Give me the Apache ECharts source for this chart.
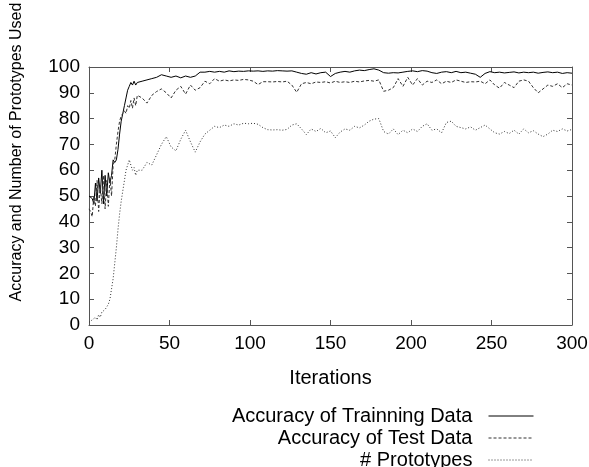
<!DOCTYPE html>
<html>
<head>
<meta charset="utf-8">
<script src="https://cdn.jsdelivr.net/npm/echarts@6/dist/echarts.min.js"></script>
<style>
  html, body { margin: 0; padding: 0; background: #fff; }
  #main { width: 589px; height: 467px; }
</style>
</head>
<body>
<div id="main"></div>
<script>
var iterations = [
  0, 1, 2, 3, 4, 5, 6, 7, 8, 9, 10, 11, 12, 13, 14, 15, 16, 17, 18, 19, 20,
  21, 22, 23, 24, 25, 26, 27, 28, 29, 30,
  33, 36, 39, 42, 45, 48, 51, 54, 57, 60, 63, 66, 69, 72, 75, 78, 81, 84, 87, 90,
  93, 96, 99, 102, 105, 108, 111, 114, 117, 120, 123, 126, 129, 132, 135, 138, 141, 144, 147, 150,
  153, 156, 159, 162, 165, 168, 171, 174, 177, 180, 183, 186, 189, 192, 195, 198, 201, 204, 207, 210,
  213, 216, 219, 222, 225, 228, 231, 234, 237, 240, 243, 246, 249, 252, 255, 258, 261, 264, 267, 270,
  273, 276, 279, 282, 285, 288, 291, 294, 297, 300
];

var trainAcc = [
  50, 50, 49, 47, 55, 48, 57, 51, 60, 47, 58, 50, 59, 55, 58, 64, 63, 64, 68, 74, 79,
  82, 85, 88, 91, 92.5, 94, 93, 94.5, 93, 94,
  94.5, 95, 95.5, 96, 97, 96.5, 96, 96.5, 95.8, 96.5, 96, 96.5, 98, 98, 98.3, 98, 98.3, 98, 98.5, 98.2,
  98.4, 98.3, 98.5, 98.4, 98.5, 98.3, 98.5, 98.4, 98.6, 98.5, 98.4, 98.5, 98, 97.5, 97.2, 97.8, 97.3, 97.8, 98, 96.3,
  97.5, 98, 98.3, 98, 98.5, 98.8, 98.6, 99, 99.3, 98.8, 97.8, 97.6, 97.8, 97.7, 98, 98.3, 98.5, 98.2, 98.6, 98.4,
  97.8, 97.5, 98, 98.2, 97.8, 98.3, 97.8, 98, 97.6, 97.2, 96, 97.5, 98.2, 97.8, 98, 97.7, 97.9, 98.1, 97.7, 98,
  97.8, 98, 97.6, 97.9, 98.1, 97.8, 98, 97.5, 97.8, 97.6
];

var testAcc = [
  45, 44, 42, 50, 46, 56, 44, 54, 47, 58, 45, 56, 46, 57, 50, 62, 64, 70, 75, 79, 81,
  82, 83, 82, 85, 84, 87, 84, 88, 85, 89,
  88, 86, 89, 90.5, 91.5, 90, 88, 91, 92.5, 89.5, 93, 91, 92, 94.5, 93.5, 95.5, 94.5, 95, 94.6, 95,
  94.8, 95.2, 95, 94.5, 93.2, 94.3, 94.3, 94.2, 94.4, 94.2, 94.5, 93, 90.2, 93.5, 94, 93.5, 94.2, 94, 94.3, 93.8,
  94.5, 94, 94.3, 94, 94.5, 94.2, 94.6, 94.8, 94.5, 95, 90.6, 91, 92, 95.5, 92.5, 96, 93, 95.5, 93, 94.5,
  94, 95, 93.5, 94.5, 94, 95, 94.5, 94, 94.3, 94.2, 94.5, 93.5, 95, 93, 91.8, 94, 93, 92, 94.5, 95,
  94.5, 92, 90, 91.5, 93, 92.5, 93.5, 92, 93.5, 93
];

var prototypes = [
  1, 1, 2, 2, 3, 2, 4, 3, 5, 5, 6, 7, 8, 10, 14, 18, 24, 30, 37, 43, 48,
  52, 56, 60, 62, 64, 62, 60, 61, 58, 60,
  60, 63, 62, 66, 70, 73, 69, 67.5, 72, 75.5, 71, 67, 71, 74, 75.5, 77, 76.5, 77.5, 77, 78,
  77.5, 78.2, 78, 78.2, 77.8, 76.5, 75.7, 75.6, 75.7, 75.5, 75.8, 77.5, 78, 76, 73.8, 76, 75, 76.2, 74.5, 75.2,
  72.6, 74.8, 76, 75.5, 77, 76.4, 77.5, 79, 79.8, 80, 75, 74, 76, 73.8, 75.5, 74.5, 76, 75, 77, 78,
  75.5, 76, 74.5, 78.5, 79, 77, 76.5, 76, 76.8, 75.5, 76.5, 77.5, 76, 74.5, 74, 75, 74.2, 75.5, 74, 76,
  74.5, 75.3, 74, 73, 74, 75.5, 75, 76, 75.2, 75.8
];

var seriesNames = ['Accuracy of Trainning Data', 'Accuracy of Test Data', '# Prototypes'];
var xTicks = [0, 50, 100, 150, 200, 250, 300];
var yTicks = [0, 10, 20, 30, 40, 50, 60, 70, 80, 90, 100];

function pairs(vals) {
  return iterations.map(function (it, i) { return [it, vals[i]]; });
}

var chart = echarts.init(document.getElementById('main'));
var font = 'Liberation Sans, Arial, sans-serif';
var frame = '#555';

var mirrorAxis = {
  type: 'value',
  axisLine: { show: true, onZero: false, lineStyle: { color: frame, width: 1 } },
  axisTick: { show: true, inside: true, length: 5, lineStyle: { color: frame } },
  axisLabel: { show: false },
  splitLine: { show: false }
};

// one legend per series so each row sits where the reference has it
var legendTops = [401, 423, 445];
var legends = seriesNames.map(function (name, i) {
  return {
    orient: 'horizontal', align: 'right',
    right: 50, top: legendTops[i],
    itemWidth: 45, itemHeight: 12,
    formatter: function (n) { return n + '  '; },
    itemStyle: { opacity: 0 },
    lineStyle: { width: 1 },
    textStyle: { fontFamily: font, fontSize: 20, color: '#000' },
    data: [name]
  };
});

chart.setOption({
  animation: false,
  backgroundColor: '#fff',
  grid: { left: 89, right: 17, top: 67, bottom: 142, containLabel: false, outerBoundsMode: 'none' },
  xAxis: [
    {
      type: 'value', min: xTicks[0], max: xTicks[xTicks.length - 1], interval: 50,
      name: 'Iterations', nameLocation: 'middle', nameGap: 43,
      nameTextStyle: { fontFamily: font, fontSize: 20, color: '#000' },
      axisLine: { show: true, onZero: false, lineStyle: { color: frame, width: 1 } },
      axisTick: { show: true, inside: true, length: 5, lineStyle: { color: frame } },
      axisLabel: { fontFamily: font, fontSize: 19, color: '#000', margin: 9 },
      splitLine: { show: false }
    },
    Object.assign({}, mirrorAxis, { position: 'top', min: 0, max: 300, interval: 50 })
  ],
  yAxis: [
    {
      type: 'value', min: yTicks[0], max: yTicks[yTicks.length - 1], interval: 10,
      axisLine: { show: true, onZero: false, lineStyle: { color: frame, width: 1 } },
      axisTick: { show: true, inside: true, length: 5, lineStyle: { color: frame } },
      axisLabel: { fontFamily: font, fontSize: 19, color: '#000', margin: 9 },
      splitLine: { show: false }
    },
    Object.assign({}, mirrorAxis, { position: 'right', min: 0, max: 100, interval: 10 })
  ],
  graphic: [{
    type: 'text', x: 17, y: 152, rotation: Math.PI / 2,
    style: {
      text: 'Accuracy and Number of Prototypes Used',
      font: '16px ' + font, fill: '#000',
      align: 'center', verticalAlign: 'middle'
    }
  }],
  legend: legends,
  series: [
    {
      name: seriesNames[0], type: 'line', data: pairs(trainAcc),
      showSymbol: false, symbol: 'none',
      lineStyle: { color: '#000', width: 1, type: 'solid' },
      itemStyle: { color: '#000' }
    },
    {
      name: seriesNames[1], type: 'line', data: pairs(testAcc),
      showSymbol: false, symbol: 'none',
      lineStyle: { color: '#333', width: 1, type: [3, 2] },
      itemStyle: { color: '#333' }
    },
    {
      name: seriesNames[2], type: 'line', data: pairs(prototypes),
      showSymbol: false, symbol: 'none',
      lineStyle: { color: '#333', width: 1, type: [1, 2] },
      itemStyle: { color: '#333' }
    }
  ]
});
</script>
</body>
</html>
